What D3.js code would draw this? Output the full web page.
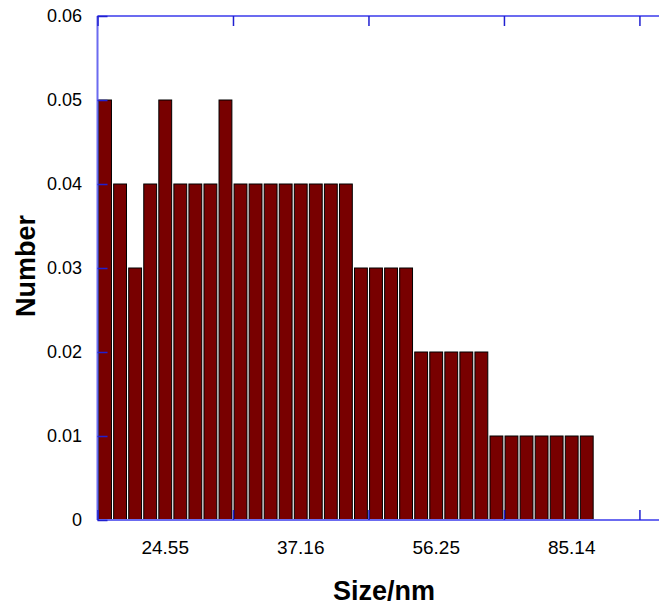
<!DOCTYPE html>
<html>
<head>
<meta charset="utf-8">
<script src="https://cdn.jsdelivr.net/npm/d3@7"></script>
<style>
  html, body { margin: 0; padding: 0; background: #fff; }
  svg { display: block; }
</style>
</head>
<body>
<svg id="chart" width="659" height="606"></svg>
<script>
// ---- data ----
const binValues = [0.05, 0.04, 0.03, 0.04, 0.05, 0.04, 0.04, 0.04, 0.05,
                   0.04, 0.04, 0.04, 0.04, 0.04, 0.04, 0.04, 0.04,
                   0.03, 0.03, 0.03, 0.03,
                   0.02, 0.02, 0.02, 0.02, 0.02,
                   0.01, 0.01, 0.01, 0.01, 0.01, 0.01, 0.01];
const xLabelText = ["24.55", "37.16", "56.25", "85.14"];
const xLabelBin = [4, 13, 22, 31];
const xTickBins = [0, 9, 18, 27, 36];
const yTicks = [0, 0.01, 0.02, 0.03, 0.04, 0.05, 0.06];

// ---- layout ----
const svg = d3.select("#chart");
const mLeft = 97.5, mRight = 659, mTop = 16, mBottom = 520;
const x = d3.scaleLinear().domain([0, 37.3]).range([mLeft, mRight]);
const y = d3.scaleLinear().domain([0, 0.06]).range([mBottom, mTop]);
const axisColor = "#6b6bf0";
const tickColor = "#2020d0";
const font = "'Liberation Sans', Arial, sans-serif";

// bars
const gap = 1.2;
svg.append("g").selectAll("rect").data(binValues).join("rect")
  .attr("x", (d, i) => x(i) + gap / 2 + 0.5)
  .attr("width", (d, i) => x(i + 1) - x(i) - gap - 1)
  .attr("y", d => y(d))
  .attr("height", d => y(0) - y(d))
  .attr("fill", "#780000")
  .attr("stroke", "#000")
  .attr("stroke-width", 1);

// frame (left, top, bottom)
const frame = svg.append("g").attr("fill", "none").attr("stroke", axisColor).attr("stroke-width", 2);
frame.append("line").attr("x1", mLeft).attr("x2", mLeft).attr("y1", mTop).attr("y2", mBottom);
frame.append("line").attr("x1", mLeft).attr("x2", mRight).attr("y1", mTop).attr("y2", mTop);
frame.append("line").attr("x1", mLeft).attr("x2", mRight).attr("y1", mBottom).attr("y2", mBottom);

// x ticks (inward, top and bottom) via d3 axes
const xTop = svg.append("g").attr("transform", `translate(0,${mTop})`)
  .call(d3.axisTop(x).tickValues(xTickBins).tickSize(-10).tickFormat(""));
const xBot = svg.append("g").attr("transform", `translate(0,${mBottom})`)
  .call(d3.axisBottom(x).tickValues(xTickBins).tickSize(-10).tickFormat(""));
// y ticks (inward) with labels
const yAx = svg.append("g").attr("transform", `translate(${mLeft},0)`)
  .call(d3.axisLeft(y).tickValues(yTicks).tickSize(-10).tickPadding(15.5)
    .tickFormat(d => d === 0 ? "0" : d.toFixed(2)));
[xTop, xBot, yAx].forEach(g => {
  g.select(".domain").remove();
  g.selectAll(".tick line").attr("stroke", tickColor).attr("stroke-width", 1.5);
});
yAx.selectAll(".tick text")
  .attr("font-family", font).attr("font-size", 18).attr("fill", "#000");

// x tick labels (centered in bins)
svg.append("g").selectAll("text").data(xLabelText).join("text")
  .attr("x", (d, i) => x(xLabelBin[i] + 0.5))
  .attr("y", 554)
  .attr("text-anchor", "middle")
  .attr("font-family", font).attr("font-size", 19).attr("fill", "#000")
  .text(d => d);

// axis titles
svg.append("text")
  .attr("x", 384).attr("y", 600)
  .attr("text-anchor", "middle")
  .attr("font-family", font).attr("font-size", 27).attr("font-weight", "bold")
  .text("Size/nm");
svg.append("text")
  .attr("transform", "translate(35,266) rotate(-90)")
  .attr("text-anchor", "middle")
  .attr("font-family", font).attr("font-size", 27).attr("font-weight", "bold")
  .text("Number");
</script>
</body>
</html>
